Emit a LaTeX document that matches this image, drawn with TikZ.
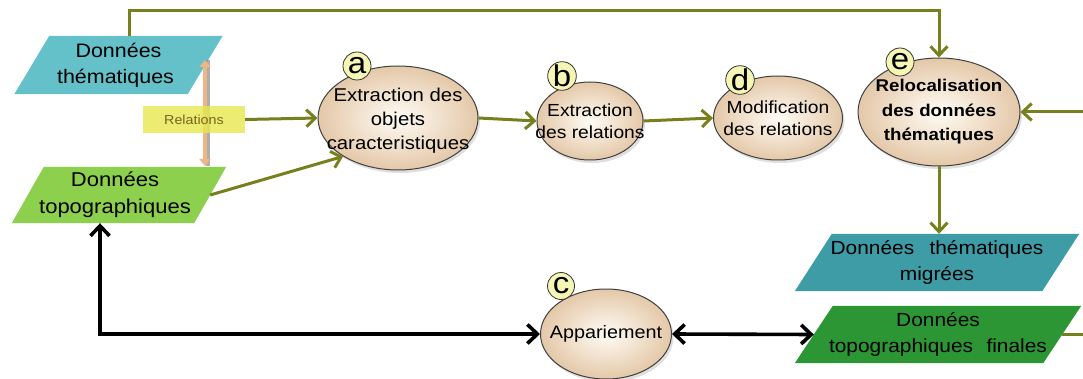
\documentclass[tikz,border=0pt]{standalone}
\usepackage{fontspec}
\setmainfont[FakeStretch=1.1]{Liberation Sans}
\usetikzlibrary{arrows.meta,shadows,backgrounds,calc,shapes.geometric}
\definecolor{cthema}{RGB}{100,193,202}
\definecolor{ctopo}{RGB}{140,208,78}
\definecolor{cmigr}{RGB}{62,156,166}
\definecolor{cfin}{RGB}{44,150,52}
\definecolor{colive}{RGB}{118,128,28}
\definecolor{crel}{RGB}{232,232,80}
\definecolor{creltxt}{RGB}{120,100,30}
\definecolor{corange}{RGB}{238,182,132}
\definecolor{clbl}{RGB}{245,245,180}
\definecolor{cin}{RGB}{255,252,246}
\definecolor{cout}{RGB}{228,200,168}
\newcommand{\parafill}[3]{%
  \fill[#3] ($(#1.north west)+(#2,0)$) -- ($(#1.north east)+(#2,0)$)
     -- ($(#1.south east)-(#2,0)$) -- ($(#1.south west)-(#2,0)$) -- cycle;}
\tikzset{
  proc/.style={ellipse, draw=black!75, line width=1pt, shading=radial,
     inner color=cin, outer color=cout, inner sep=0pt,
     drop shadow={opacity=0.25, shadow xshift=2pt, shadow yshift=-3pt}},
  ptext/.style={align=center, inner sep=0pt},
  lbl/.style={circle, draw=black!80, line width=0.8pt, fill=clbl,
     minimum size=28pt, inner sep=0pt, font=\fontsize{30}{30}\selectfont},
  datanode/.style={align=center, inner sep=0pt},
  flow/.style={draw=colive, line width=3pt,
     -{Straight Barb[length=9pt,width=17pt,line width=3pt]}},
  blk/.style={draw=black, line width=3.6pt,
     {Straight Barb[length=10pt,width=19pt,line width=3.6pt]}-{Straight Barb[length=10pt,width=19pt,line width=3.6pt]}},
}
\begin{document}
\begin{tikzpicture}[x=1pt,y=-1pt]
\useasboundingbox (0,0) rectangle (1083,379);
\clip (0,0) rectangle (1083,379);
\begin{pgfonlayer}{background}
\fill[white] (0,0) rectangle (1083,379);
\end{pgfonlayer}

% data nodes
\node[datanode, minimum width=173pt, minimum height=58pt, font=\fontsize{19.5}{26}\selectfont] (thema) at (118.5,65) {Données\\thématiques\hspace*{6pt}};
\node[datanode, minimum width=182pt, minimum height=56pt, font=\fontsize{20}{27}\selectfont] (topo) at (119,195) {Données\hspace*{8pt}\\topographiques\hspace*{8pt}};
\node[datanode, minimum width=247pt, minimum height=57pt, font=\fontsize{19}{26}\selectfont] (migr) at (937,262.5) {Données\hspace{0.5em} thématiques\\migrées};
\node[datanode, minimum width=248pt, minimum height=57pt, font=\fontsize{19}{26}\selectfont] (fin) at (938,334.5) {Données\\topographiques\hspace{0.4em} finales};

\begin{pgfonlayer}{background}
\parafill{thema}{17.5}{cthema}
\parafill{topo}{16}{ctopo}
\parafill{migr}{18.5}{cmigr}
\parafill{fin}{19}{cfin}
\end{pgfonlayer}

% process ellipses
\node[proc, minimum width=160pt, minimum height=104pt] (a) at (398,118) {};
\node[ptext, font=\fontsize{18.5}{24}\selectfont] (at) at ([yshift=-3pt]a.center) {Extraction des\\objets\\caracteristiques};
\node[proc, minimum width=106pt, minimum height=78pt] (b) at (590,121) {};
\node[ptext, font=\fontsize{17.5}{22}\selectfont] (bt) at (b.center) {Extraction\\des relations};
\node[proc, minimum width=129pt, minimum height=84pt] (d) at (778,118) {};
\node[ptext, font=\fontsize{17.5}{22}\selectfont] (dt) at (d.center) {Modification\\des relations};
\node[proc, minimum width=162pt, minimum height=108pt] (e) at (939,112) {};
\node[ptext, font=\bfseries\fontsize{17}{24.5}\selectfont] (et) at (e.center) {Relocalisation\\des données\\thématiques};
\node[proc, minimum width=131pt, minimum height=90pt] (c) at (606,334) {};
\node[ptext, font=\fontsize{18}{22}\selectfont] (ct) at (c.center) {Appariement};

% letter labels
\node[lbl] (la) at (357,66) {a};
\node[lbl] (lb) at (562,76) {b};
\node[lbl] (ld) at (740,80) {d};
\node[lbl] (le) at (900,62) {e};
\node[lbl, minimum size=27pt] (lc) at (561,286) {c};

% orange double arrow with shadow
\coordinate (o1) at (205,60);
\coordinate (o2) at (205,166);
\draw[black!45, line width=4pt, opacity=0.7] ([xshift=3pt]o1) -- ([xshift=3pt]o2);
\draw[corange, line width=4pt, {Triangle[length=7pt,width=11pt]}-{Triangle[length=7pt,width=11pt]}] (o1) -- (o2);

% relations box
\node[fill=crel, fill opacity=0.8, text opacity=1, minimum width=102pt, minimum height=27pt, inner sep=0pt, text=creltxt, font=\fontsize{13}{15}\selectfont] (rel) at (194,119.5) {Relations};

% olive connectors
\coordinate (top) at (0,11);
\coordinate (right) at (1100,0);
\draw[flow] (rel.east) -- (a.west);
\draw[flow] (topo.east) -- (a.215);
\draw[flow] (a.east) -- (b.west);
\draw[flow] (b.east) -- (d.west);
\draw[flow] ([xshift=10.5pt]thema.north) -- ([xshift=10.5pt]thema.north |- top) -| (e.north);
\draw[flow] (fin.east) -- (fin.east -| right) -- (right |- e.east) -- (e.east);
\draw[flow] (e.south) -- (e.south |- migr.north);

% black connectors
\draw[blk] ([xshift=-19pt]topo.south) |- (c.west);
\draw[blk] (c.east) -- (fin.west);
\end{tikzpicture}
\end{document}
